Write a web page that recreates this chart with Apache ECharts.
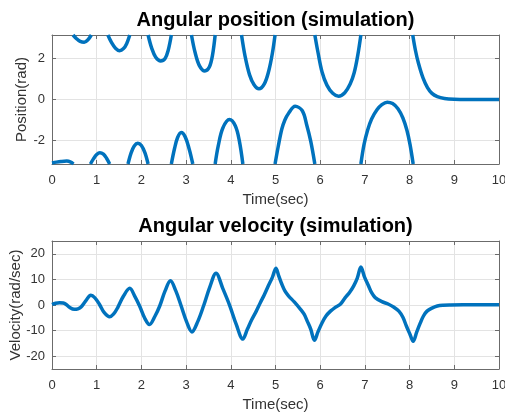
<!DOCTYPE html>
<html>
<head>
<meta charset="utf-8">
<script src="https://cdn.jsdelivr.net/npm/echarts@6/dist/echarts.min.js"></script>
<style>
  html, body { margin: 0; padding: 0; background: #fff; }
  #chart { width: 505px; height: 415px; }
</style>
</head>
<body>
<div id="chart"></div>
<script>
// Position is wrapped to [-pi, pi]; a null row marks
// each wrap so the line breaks instead of drawing a vertical jump.
const PI_EDGE = 3.1416;

const positionRad = [
  [0, -3.09], [0.1, -3.05], [0.2, -3.02], [0.33, -3.0], [0.42, -3.05], [0.48, -3.1416], [0.48, null],
  [0.47, 3.1416], [0.55, 2.96], [0.63, 2.83], [0.72, 2.79], [0.8, 2.9], [0.88, 3.1416], [0.88, null],
  [0.86, -3.1416], [0.93, -2.88], [1.0, -2.68], [1.07, -2.59], [1.15, -2.66], [1.22, -2.86], [1.29, -3.1416], [1.29, null],
  [1.25, 3.1416], [1.33, 2.78], [1.42, 2.5], [1.51, 2.38], [1.6, 2.48], [1.67, 2.72], [1.74, 3.1416], [1.74, null],
  [1.7, -3.1416], [1.77, -2.6], [1.84, -2.26], [1.92, -2.13], [2.0, -2.24], [2.08, -2.6], [2.15, -3.1416], [2.15, null],
  [2.15, 3.1416], [2.23, 2.5], [2.32, 2.06], [2.43, 1.88], [2.53, 2.0], [2.6, 2.4], [2.67, 3.1416], [2.67, null],
  [2.67, -3.1416], [2.74, -2.4], [2.81, -1.85], [2.89, -1.61], [2.98, -1.82], [3.07, -2.42], [3.15, -3.1416], [3.15, null],
  [3.12, 3.1416], [3.2, 2.3], [3.3, 1.64], [3.42, 1.39], [3.52, 1.58], [3.59, 2.15], [3.65, 3.1416], [3.65, null],
  [3.65, -3.1416], [3.72, -2.25], [3.82, -1.4], [3.97, -0.98], [4.1, -1.28], [4.19, -2.0], [4.27, -3.1416], [4.27, null],
  [4.24, 3.1416], [4.32, 2.1], [4.42, 1.2], [4.52, 0.72], [4.63, 0.52], [4.75, 0.76], [4.85, 1.4], [4.93, 2.25], [4.99, 3.1416], [4.99, null],
  [4.99, -3.1416], [5.06, -2.3], [5.14, -1.45], [5.21, -1.0], [5.29, -0.68], [5.44, -0.33], [5.6, -0.55], [5.7, -1.25], [5.79, -2.05], [5.88, -3.1416], [5.88, null],
  [5.88, 3.1416], [5.95, 2.3], [6.04, 1.35], [6.15, 0.7], [6.28, 0.3], [6.41, 0.16], [6.55, 0.33], [6.67, 0.75], [6.76, 1.3], [6.84, 2.15], [6.91, 3.1416], [6.91, null],
  [6.91, -3.1416], [6.98, -2.2], [7.06, -1.5], [7.15, -0.95], [7.27, -0.5], [7.38, -0.25], [7.5, -0.13], [7.62, -0.2], [7.74, -0.45], [7.85, -0.9], [7.94, -1.5], [8.01, -2.2], [8.08, -3.1416], [8.08, null],
  [8.07, 3.1416], [8.13, 2.4], [8.2, 1.75], [8.3, 1.05], [8.4, 0.58], [8.5, 0.3], [8.62, 0.14], [8.78, 0.05], [9.0, 0.01], [9.3, 0], [10, 0],
];

const velocityRadSec = [
  [0, 0.2], [0.08, 0.7], [0.17, 0.9], [0.25, 0.8], [0.31, 0.3], [0.4, -1.0], [0.5, -1.7], [0.58, -1.5],
  [0.65, -0.8], [0.75, 1.5], [0.87, 3.8], [0.96, 2.8], [1.06, 0.3], [1.17, -3.0], [1.29, -4.6], [1.38, -3.5],
  [1.47, -1.0], [1.6, 3.5], [1.74, 6.5], [1.85, 3.5], [1.96, -0.4], [2.07, -5.0], [2.18, -7.6], [2.3, -4.5],
  [2.41, -0.4], [2.53, 5.5], [2.65, 9.5], [2.77, 5.5], [2.89, -0.4], [3.01, -6.5], [3.13, -10.5], [3.26, -6.5],
  [3.39, -0.4], [3.53, 7.0], [3.67, 12.4], [3.82, 6.5], [3.98, -0.4], [4.12, -7.5], [4.27, -13.3], [4.37, -9.5],
  [4.47, -5.7], [4.57, -2.4], [4.66, 0.9], [4.75, 4.0], [4.84, 7.5], [4.93, 10.8], [5.01, 14.4], [5.07, 11.5],
  [5.14, 8.2], [5.21, 5.5], [5.29, 3.6], [5.42, 1.2], [5.56, -1.7], [5.64, -3.6], [5.71, -6.3], [5.79, -9.5],
  [5.87, -13.8], [5.95, -10.5], [6.04, -7.0], [6.13, -4.3], [6.23, -2.4], [6.33, -1.0], [6.45, 0.3], [6.56, 2.9],
  [6.66, 5.0], [6.75, 7.5], [6.83, 10.5], [6.91, 14.8], [6.99, 11.0], [7.08, 7.5], [7.15, 4.8], [7.23, 2.9],
  [7.38, 1.3], [7.53, 0.3], [7.65, -0.9], [7.76, -2.4], [7.85, -4.8], [7.93, -8.3], [8.01, -11.5], [8.08, -14.2],
  [8.16, -10.5], [8.24, -7.0], [8.31, -4.3], [8.39, -2.4], [8.5, -1.2], [8.62, -0.4], [8.75, -0.1], [8.92, 0.0],
  [9.2, 0.05], [10, 0.05],
];

const TIME_RANGE = [0, 10];
const VELOCITY_RANGE = [-25, 25];
const TITLES = ["Angular position (simulation)", "Angular velocity (simulation)"];
const X_NAME = "Time(sec)";
const Y_NAMES = ["Position(rad)", "Velocity(rad/sec)"];

const FONT = "'Liberation Sans', Arial, Helvetica, sans-serif";
const LINE = "#0072BD";
const AXIS = "#6b6b6b";
const GRID = "#e3e3e3";
const TEXT = "#333333";

// MATLAB draws a closed box with inward ticks on all four sides; the mirrored
// top/right axes only carry the line and ticks.
function xAxes(gridIndex) {
  const shared = {
    gridIndex, type: "value", min: TIME_RANGE[0], max: TIME_RANGE[1], interval: 1,
    axisLine: { show: true, onZero: false, lineStyle: { color: AXIS, width: 1 } },
    axisTick: { show: true, inside: true, length: 4, lineStyle: { color: AXIS } },
  };
  return [
    {
      ...shared, position: "bottom",
      axisLabel: { margin: 10, fontSize: 13, color: TEXT, fontFamily: FONT },
      splitLine: { show: true, lineStyle: { color: GRID, width: 1 } },
      // nameMoveOverlap off: v6 would otherwise push the name past the labels
      // and ignore nameGap.
      name: X_NAME, nameLocation: "middle", nameGap: 28, nameMoveOverlap: false,
      nameTextStyle: { fontSize: 15, color: TEXT, fontFamily: FONT },
    },
    { ...shared, position: "top", axisLabel: { show: false }, splitLine: { show: false } },
  ];
}

function yAxes(gridIndex, range, splitNumber, name, nameGap) {
  const shared = {
    gridIndex, type: "value", min: range[0], max: range[1], splitNumber,
    axisLine: { show: true, onZero: false, lineStyle: { color: AXIS, width: 1 } },
    axisTick: { show: true, inside: true, length: 4, lineStyle: { color: AXIS } },
  };
  return [
    {
      ...shared, position: "left",
      axisLabel: {
        margin: 7, fontSize: 13, color: TEXT, fontFamily: FONT,
        showMinLabel: false, showMaxLabel: false,
      },
      splitLine: { show: true, lineStyle: { color: GRID, width: 1 } },
      name, nameLocation: "middle", nameGap, nameMoveOverlap: false,
      nameTextStyle: { fontSize: 15, color: TEXT, fontFamily: FONT },
    },
    { ...shared, position: "right", axisLabel: { show: false }, splitLine: { show: false } },
  ];
}

function lineSeries(data, axisIndex) {
  return {
    type: "line", data, xAxisIndex: axisIndex, yAxisIndex: axisIndex,
    showSymbol: false, symbol: "none", smooth: 0.35,
    connectNulls: false, clip: true, animation: false,
    lineStyle: { color: LINE, width: 3.5 },
    z: 5,
  };
}

function titleText(text, y) {
  return {
    type: "text", x: 275.5, y,
    style: {
      text, fill: "#000", font: `bold 20px ${FONT}`,
      textAlign: "center", textVerticalAlign: "middle",
    },
  };
}

const chart = echarts.init(document.getElementById("chart"), null, { renderer: "canvas" });
chart.setOption({
  animation: false,
  backgroundColor: "#fff",
  // outerBoundsMode 'none': keep the plot box where MATLAB put it, even though
  // the last tick label and axis names run close to the canvas edge.
  grid: [
    { left: 52, top: 35, width: 447, height: 129, containLabel: false, outerBoundsMode: "none" },
    { left: 52, top: 241, width: 447, height: 128, containLabel: false, outerBoundsMode: "none" },
  ],
  xAxis: [...xAxes(0), ...xAxes(1)],
  yAxis: [
    ...yAxes(0, [-PI_EDGE, PI_EDGE], 3, Y_NAMES[0], 23),
    ...yAxes(1, VELOCITY_RANGE, 5, Y_NAMES[1], 29),
  ],
  series: [lineSeries(positionRad, 0), lineSeries(velocityRadSec, 2)],
  graphic: [titleText(TITLES[0], 20), titleText(TITLES[1], 226)],
});
</script>
</body>
</html>
